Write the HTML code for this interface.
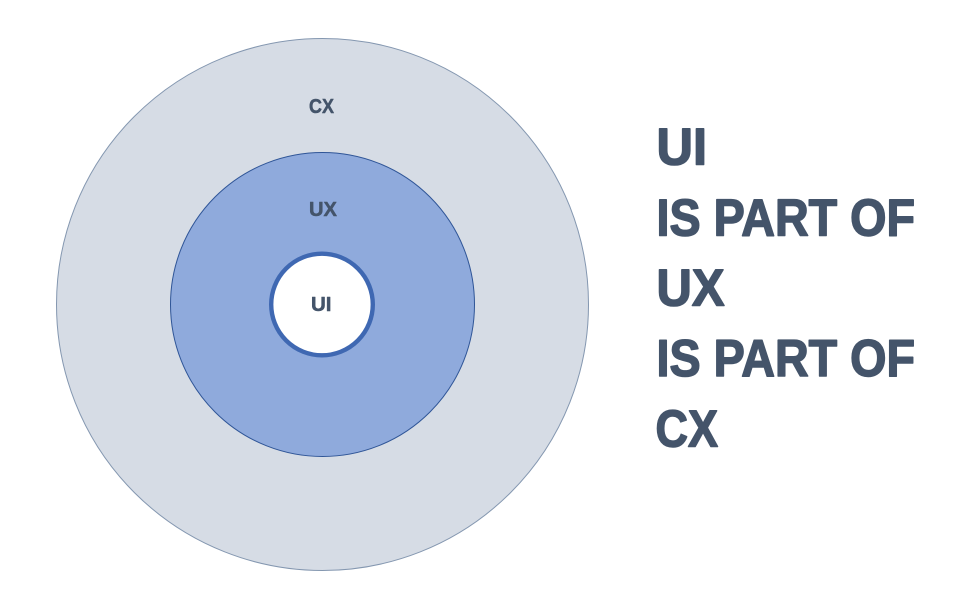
<!DOCTYPE html>
<html>
<head>
<meta charset="utf-8">
<style>
html,body{margin:0;padding:0;background:#fff;width:956px;height:615px;overflow:hidden}
svg{display:block}
text{font-family:"Liberation Sans",sans-serif;font-weight:700;fill:#44546a;stroke:#44546a;stroke-linejoin:round}
.b{font-size:52px;stroke-width:1.5px}
.s{font-size:20.500px;stroke-width:.5px}
</style>
</head>
<body>
<svg width="956" height="615" viewBox="0 0 956 615" xmlns="http://www.w3.org/2000/svg">
<circle cx="322.500" cy="304.500" r="266" fill="#d6dce5" stroke="#8497b0" stroke-width="1"/>
<circle cx="322.500" cy="304.500" r="152" fill="#8faadc" stroke="#2f5597" stroke-width="1"/>
<circle cx="322" cy="304.500" r="50.800" fill="#ffffff" stroke="#3f68b2" stroke-width="4.400"/>
<text class="s" x="309" y="113" textLength="25" lengthAdjust="spacingAndGlyphs">CX</text>
<text class="s" x="309" y="216" textLength="28" lengthAdjust="spacingAndGlyphs">UX</text>
<text class="s" x="311" y="311" textLength="20.500" lengthAdjust="spacingAndGlyphs">UI</text>
<text class="b" x="656.500" y="164.500" textLength="50.500" lengthAdjust="spacingAndGlyphs">UI</text>
<text class="b" x="656.500" y="235.500" textLength="258.500" lengthAdjust="spacingAndGlyphs">IS PART OF</text>
<text class="b" x="656.500" y="305.500" textLength="68" lengthAdjust="spacingAndGlyphs">UX</text>
<text class="b" x="656.500" y="376" textLength="258.500" lengthAdjust="spacingAndGlyphs">IS PART OF</text>
<text class="b" x="655.500" y="446.500" textLength="62.500" lengthAdjust="spacingAndGlyphs">CX</text>
</svg>
</body>
</html>
